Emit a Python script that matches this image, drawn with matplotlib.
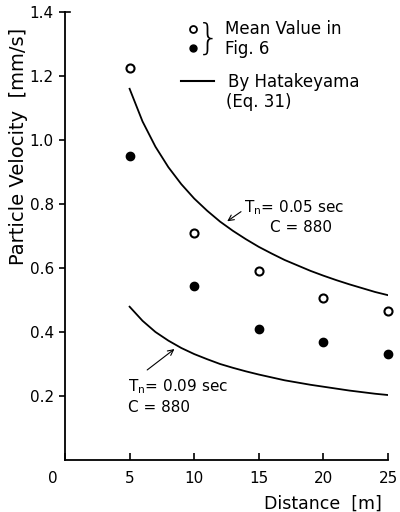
import matplotlib
matplotlib.use("Agg")
import matplotlib.pyplot as plt
from matplotlib.transforms import ScaledTranslation

distance = [5, 10, 15, 20, 25]
mean_open = [1.225, 0.71, 0.59, 0.505, 0.465]
mean_filled = [0.95, 0.545, 0.41, 0.37, 0.33]

curve_x = [5, 6, 7, 8, 9, 10, 11, 12, 13, 14, 15, 16, 17, 18, 19, 20, 21, 22, 23, 24, 25]
curve_005 = [1.16, 1.058, 0.979, 0.915, 0.862, 0.817, 0.779, 0.745, 0.716, 0.690, 0.666,
             0.645, 0.625, 0.608, 0.591, 0.576, 0.562, 0.549, 0.537, 0.525, 0.515]
curve_009 = [0.479, 0.435, 0.400, 0.373, 0.350, 0.331, 0.315, 0.300, 0.288, 0.277, 0.267,
             0.258, 0.249, 0.242, 0.235, 0.229, 0.223, 0.217, 0.212, 0.207, 0.203]

xticks = [0, 5, 10, 15, 20, 25]
yticks = [0.2, 0.4, 0.6, 0.8, 1.0, 1.2, 1.4]

plt.rcParams['font.family'] = ['DejaVu Sans']
fig = plt.figure(figsize=(4.0, 5.12), dpi=100)
ax = fig.add_axes([0.1625, 0.1016, 0.8075, 0.875])
ax.set_xlim(0, 25)
ax.set_ylim(0, 1.4)

ax.plot(curve_x, curve_005, color='black', lw=1.3)
ax.plot(curve_x, curve_009, color='black', lw=1.3)
ax.plot(distance, mean_open, 'o', mfc='white', mec='black', mew=1.5, ms=5.8, clip_on=False)
ax.plot(distance, mean_filled, 'o', mfc='black', mec='black', ms=6.0, clip_on=False)

for s in ['top', 'right']:
    ax.spines[s].set_visible(False)
for s in ['left', 'bottom']:
    ax.spines[s].set_linewidth(1.3)

ax.set_xticks(xticks)
ax.set_xticklabels([str(v) for v in xticks])
ax.set_yticks(yticks)
ax.set_yticklabels([f"{v:.1f}" for v in yticks])
ax.tick_params(axis='x', direction='in', length=5, width=1.2, labelsize=11, pad=8)
ax.tick_params(axis='y', direction='out', length=4, width=1.2, labelsize=11, pad=4)
# corner tick at top of y axis pointing right
ax.plot([0, 0.014], [1, 1], transform=ax.transAxes, color='black', lw=1.2, clip_on=False)
# shift "0" x tick label to the left
lbl0 = ax.get_xticklabels()[0]
lbl0.set_transform(lbl0.get_transform() + ScaledTranslation(-9/72, 0, fig.dpi_scale_trans))

ax.set_xlabel('Distance  [m]', fontsize=12.5)
ax.xaxis.set_label_coords(0.80, -0.078)
ax.set_ylabel('Particle Velocity  [mm/s]', fontsize=14)
ax.yaxis.set_label_coords(-0.145, 0.70)
ax.yaxis.label.set_va('center')

# annotations
ax.annotate('', xy=(12.38, 0.741), xytext=(13.8, 0.781),
            arrowprops=dict(arrowstyle='->', lw=0.8, color='black'))
ax.text(13.85, 0.79, r'T$_\mathregular{n}$= 0.05 sec', fontsize=11, va='center', ha='left')
ax.text(15.9, 0.725, 'C = 880', fontsize=11, va='center', ha='left')

ax.annotate('', xy=(8.64, 0.352), xytext=(6.19, 0.276),
            arrowprops=dict(arrowstyle='->', lw=0.8, color='black'))
ax.text(4.9, 0.229, r'T$_\mathregular{n}$= 0.09 sec', fontsize=11, va='center', ha='left')
ax.text(4.9, 0.1625, 'C = 880', fontsize=11, va='center', ha='left')

# legend
ax.plot([9.9], [1.346], 'o', mfc='white', mec='black', mew=1.3, ms=5, clip_on=False)
ax.plot([9.9], [1.287], 'o', mfc='black', mec='black', ms=5, clip_on=False)
ax.text(11.1, 1.318, '}', fontsize=26, va='center', ha='center', fontweight='light')
ax.text(12.4, 1.346, 'Mean Value in', fontsize=12, va='center', ha='left')
ax.text(12.4, 1.285, 'Fig. 6', fontsize=12, va='center', ha='left')
ax.plot([9.0, 11.5], [1.185, 1.185], color='black', lw=1.5)
ax.text(12.6, 1.18, 'By Hatakeyama', fontsize=12, va='center', ha='left')
ax.text(12.5, 1.12, '(Eq. 31)', fontsize=12, va='center', ha='left')

fig.savefig('out.png', dpi=100)
